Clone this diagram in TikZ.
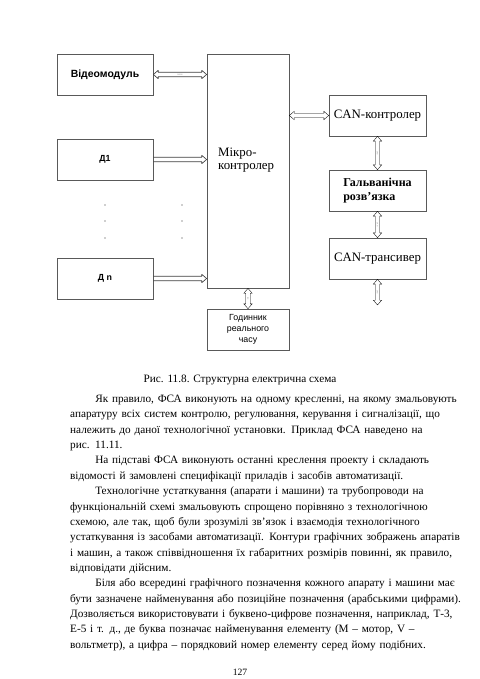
\documentclass[tikz,border=0pt]{standalone}
\usepackage{fontspec}
\setmainfont{Liberation Serif}
\newfontfamily\arialfont{Liberation Sans}
\usetikzlibrary{calc}
\hbadness=10000
\hfuzz=20pt
\newcommand\fullline[1]{\hbox to \linewidth{#1}}
\newcommand\lastline[1]{\hbox to \linewidth{#1\hfil}}

\begin{document}
\begin{tikzpicture}[x=0.4375mm, y=-0.4375mm,
    block/.style={draw=black!65, line width=0.9pt, minimum width=42mm, minimum height=17.9mm, inner sep=0pt},
    sansbox/.style={block, font=\arialfont\bfseries\fontsize{11}{13}\selectfont},
    serifbox/.style={block, minimum width=42.4mm, font=\fontsize{16}{17}\selectfont},
    tag/.style={font=\arialfont\fontsize{2.2}{2.5}\selectfont, text=black!50, inner sep=0pt},
    arrowline/.style={draw=black!75, line width=0.8pt, line join=round},
    bus/.style={arrowline, to path={
      let \p1=(\tikztostart), \p2=(\tikztotarget),
          \p3=($(\p1)!6pt!(\p2)$), \p4=($(\p2)!6pt!(\p1)$),
          \n1={atan2(\y2-\y1,\x2-\x1)} in
      (\p1) -- ($(\p3)!5.2pt!90:(\p2)$) -- ($(\p3)!2.8pt!90:(\p2)$)
        -- ($(\p4)!2.8pt!-90:(\p1)$) -- ($(\p4)!5.2pt!-90:(\p1)$) -- (\p2)
        -- ($(\p4)!5.2pt!90:(\p1)$) -- ($(\p4)!2.8pt!90:(\p1)$)
        -- ($(\p3)!2.8pt!-90:(\p2)$) -- ($(\p3)!5.2pt!-90:(\p2)$) -- cycle
      ($(\p1)!0.5!(\p2)$) node[tag, rotate=\n1] {#1}}},
    bus/.default={}]
  \fill[white] (0,0) rectangle (480,679);
  \useasboundingbox (0,0) rectangle (480,679);

  % left column
  \node[sansbox, font=\arialfont\bfseries\fontsize{13}{15}\selectfont] (video) at (105,74.5) {Відеомодуль};
  \node[sansbox] (d1) at (105,159.5) {Д1};
  \node[sansbox] (dn) at (105,278.5) {Д n};
  \foreach \k in {205,221,238} {
    \fill[black!80] (105,\k) circle (0.9pt);
    \fill[black!80] (182,\k) circle (0.9pt);
  }

  % microcontroller and clock
  \node[block, minimum width=35.9mm, minimum height=102.4mm] (mc) at (248,171) {};
  \node[anchor=west, align=left, inner sep=0pt, font=\fontsize{16}{17}\selectfont] (mclabel) at (218,160) {Мікро-\\контролер};
  \node[block, minimum width=35.9mm, align=center, font=\arialfont\fontsize{11}{14}\selectfont] (clock) at (248,329.5) {Годинник\\реального\\часу};
  \coordinate (mcvideo) at (mc.west |- video.east);
  \coordinate (mcd1) at (mc.west |- d1.east);
  \coordinate (mcdn) at (mc.west |- dn.east);

  % CAN chain
  \node[serifbox] (can) at (377.5,115.5) {CAN-контролер};
  \node[serifbox, align=left, font=\bfseries\fontsize{15}{17}\selectfont] (galv) at (377.5,190.5) {Гальванічна\\розв'язка};
  \node[serifbox] (trans) at (377.5,258.5) {CAN-трансивер};
  \coordinate (mccan) at (mc.east |- can.west);
  \coordinate (canbus) at (377.5,305);

  % buses to the microcontroller
  \draw[arrowline] (video.east) -- ([xshift=6pt,yshift=5.2pt]video.east) -- ([xshift=6pt,yshift=2.8pt]video.east)
    -- ([xshift=-6pt,yshift=2.8pt]mcvideo) -- ([xshift=-6pt,yshift=5.2pt]mcvideo) -- (mcvideo)
    -- ([xshift=-6pt,yshift=-5.2pt]mcvideo) -- ([xshift=-6pt,yshift=-2.8pt]mcvideo)
    -- ([xshift=6pt,yshift=-2.8pt]video.east) -- ([xshift=6pt,yshift=-5.2pt]video.east) -- cycle;
  \node[tag] (rs) at ($(video.east)!0.5!(mcvideo)$) {RS232};
  \draw[arrowline] ([yshift=2.8pt]d1.east) -- ([xshift=-6pt,yshift=2.8pt]mcd1) -- ([xshift=-6pt,yshift=5.2pt]mcd1)
    -- (mcd1) -- ([xshift=-6pt,yshift=-5.2pt]mcd1) -- ([xshift=-6pt,yshift=-2.8pt]mcd1) -- ([yshift=-2.8pt]d1.east);
  \draw[arrowline] ([yshift=2.8pt]dn.east) -- ([xshift=-6pt,yshift=2.8pt]mcdn) -- ([xshift=-6pt,yshift=5.2pt]mcdn)
    -- (mcdn) -- ([xshift=-6pt,yshift=-5.2pt]mcdn) -- ([xshift=-6pt,yshift=-2.8pt]mcdn) -- ([yshift=-2.8pt]dn.east);

  % CAN and clock buses
  \draw (mccan) to[bus] (can.west);
  \draw (can.south) to[bus=CAN] (galv.north);
  \draw (galv.south) to[bus=CAN] (trans.north);
  \draw (trans.south) to[bus=CAN] (canbus);
  \draw (mc.south) to[bus=I2C] (clock.north);

  % caption and page text
  \node[anchor=base, font=\fontsize{14}{16}\selectfont] (caption) at (240,382) {Рис. 11.8. Структурна електрична схема};
  \node[anchor=north west, inner sep=0pt, text width=158mm, font=\fontsize{14}{19.1}\selectfont] (body) at (70,395) {%
    \fullline{\hspace*{11mm}Як правило, ФСА виконують на одному кресленні, на якому змальовують}
    \fullline{апаратуру всіх систем контролю, регулювання, керування і сигналізації, що}
    \fullline{належить до даної технологічної установки. Приклад ФСА наведено на}
    \lastline{рис. 11.11.}
    \fullline{\hspace*{11mm}На підставі ФСА виконують останні креслення проекту і складають}
    \lastline{відомості й замовлені специфікації приладів і засобів автоматизації.}
    \fullline{\hspace*{11mm}Технологічне устаткування (апарати і машини) та трубопроводи на}
    \fullline{функціональній схемі змальовують спрощено порівняно з технологічною}
    \fullline{схемою, але так, щоб були зрозумілі зв'язок і взаємодія технологічного}
    \fullline{устаткування із засобами автоматизації. Контури графічних зображень апаратів}
    \fullline{і машин, а також співвідношення їх габаритних розмірів повинні, як правило,}
    \lastline{відповідати дійсним.}
    \fullline{\hspace*{11mm}Біля або всередині графічного позначення кожного апарату і машини має}
    \fullline{бути зазначене найменування або позиційне позначення (арабськими цифрами).}
    \fullline{Дозволяється використовувати і буквено-цифрове позначення, наприклад, Т-3,}
    \fullline{Е-5 і т. д., де буква позначає найменування елементу (М – мотор, V –}
    \lastline{вольтметр), а цифра – порядковий номер елементу серед йому подібних.}};
  \node[anchor=base, font=\fontsize{12}{14}\selectfont] (pagenum) at (240,675) {127};
\end{tikzpicture}
\end{document}
